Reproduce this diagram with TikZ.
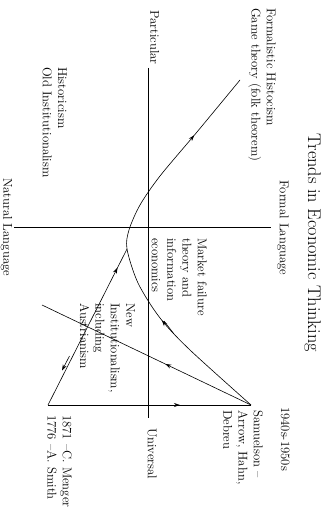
\documentclass[tikz,border=0pt]{standalone}
\usetikzlibrary{arrows.meta,decorations.markings}
\begin{document}
\begin{tikzpicture}[x=1pt,y=-1pt,
  lbl/.style={rotate=-90,inner sep=0pt,font=\fontsize{12.7}{15.3}\selectfont,align=left},
  ttl/.style={rotate=-90,inner sep=0pt,font=\fontsize{18.3}{22}\selectfont},
  ln/.style={line width=0.6pt},
  tip/.style={-{Stealth[length=6pt,width=4pt]}},
  arrs/.style={postaction={decorate},decoration={markings,
     mark=at position 0.30 with {\arrow{Stealth[length=6pt,width=4pt]}},
     mark=at position 0.825 with {\arrow{Stealth[length=6pt,width=4pt]}}}},
  midarrow/.style={postaction={decorate},decoration={markings,
     mark=at position #1 with {\arrow{Stealth[length=6pt,width=4pt]}}}}
]
\useasboundingbox (0,0) rectangle (335,513);
% labels
\node[ttl,anchor=north] (title) at (321,243) {Trends in Economic Thinking};
\node[lbl,anchor=south] (formal) at (277,228) {Formal Language};
\node[lbl,anchor=north] (natural) at (12.5,227) {Natural Language};
\node[lbl,anchor=south east] (part) at (150,65) {Particular};
\node[lbl,anchor=south west] (univ) at (147.5,428) {Universal};
\node[lbl,anchor=north west] (formh) at (276,8) {Formalistic Histocism\\Game theory (folk theorem)};
\node[lbl,anchor=north west] (hist) at (67,67) {Historicism\\Old Institutionalism};
\node[lbl,anchor=north west] (mkt) at (207,238) {Market failure\\theory and\\information\\economics};
\node[lbl,anchor=north west] (newi) at (135,303) {New\\Institutionalism,\\including\\Austrianism};
\node[lbl,anchor=north west] (dates) at (72,415) {1871 --C. Menger\\1776 --A. Smith};
\node[lbl,anchor=north west] (decade) at (290,407) {1940s-1950s};
\node[lbl,anchor=north west] (samtxt) at (263,410) {Samuelson --\\Arrow, Hahn,\\Debreu};
% points
\coordinate (ax1) at (148,68);
\coordinate (ax2) at (148,418);
\coordinate (ax3) at (14,227);
\coordinate (ax4) at (271,227);
\coordinate (smith) at (48,405);
\coordinate (samv) at (251,405);
\coordinate (join) at (127,249);
\coordinate (gtop) at (240,80);
\coordinate (free) at (42,305);
\coordinate (h1s) at (69.5,356);
\coordinate (h1e) at (62,370.5);
\coordinate (h2s) at (174,334);
\coordinate (h2e) at (164,321);
% axes
\draw[ln] (ax1) -- (ax2);
\draw[ln] (ax3) -- (ax4);
% curve
\draw[ln,arrs] plot[smooth] coordinates {(samv) (190,350) (160,318) (138,283) (join) (129,230) (140,205) (160,176) (197,132) (gtop)};
% straight lines
\draw[ln,midarrow=0.88] (smith) -- (join);
\draw[ln,midarrow=0.65] (smith) -- (samv);
\draw[ln,midarrow=0.41] (samv) -- (free);
\draw[ln,tip] (h1s) -- (h1e);
\draw[ln] (h2s) -- (h2e);
\end{tikzpicture}
\end{document}
